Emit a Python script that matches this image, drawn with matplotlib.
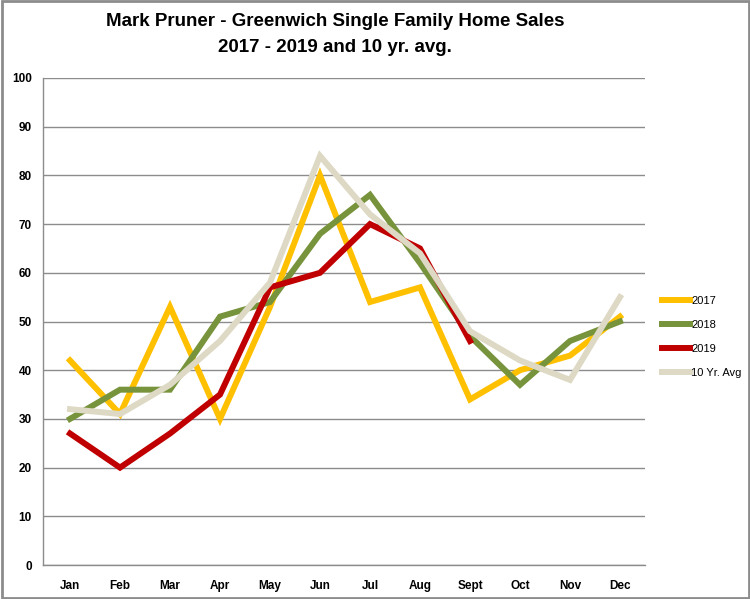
import matplotlib
matplotlib.use("Agg")
import matplotlib.pyplot as plt
from matplotlib.patches import Rectangle

months = ["Jan", "Feb", "Mar", "Apr", "May", "Jun", "Jul", "Aug", "Sept", "Oct", "Nov", "Dec"]
s2017 = [42, 31, 53, 30, 53, 80, 54, 57, 34, 40, 43, 51]
s2018 = [30, 36, 36, 51, 54, 68, 76, 62, 47, 37, 46, 50]
s2019 = [27, 20, 27, 35, 57, 60, 70, 65, 46]
avg10 = [32, 31, 37, 46, 58, 84, 72, 64, 48, 42, 38, 55]
series_names = ["2017", "2018", "2019", "10 Yr. Avg"]
yticks = [0, 10, 20, 30, 40, 50, 60, 70, 80, 90, 100]

colors = ["#FFC000", "#77933C", "#C00000", "#DDD9C4"]

plt.rcParams['font.family'] = ['Liberation Sans', 'DejaVu Sans']

fig = plt.figure(figsize=(7.5, 5.99), dpi=100)
fig.patches.append(Rectangle((0.002, 0.002), 0.996, 0.996, transform=fig.transFigure,
                             fill=False, edgecolor="#8C8C8C", linewidth=2))

ax = fig.add_axes([43/750, 1 - 565/599, (645-43)/750, (565-78)/599])

x = list(range(len(months)))
data = [s2017, s2018, s2019, avg10]
for i, vals in enumerate(data):
    ax.plot(x[:len(vals)], vals, color=colors[i], linewidth=4.3, label=series_names[i],
            solid_joinstyle="miter", zorder=3 + i)

ax.set_xlim(-0.54, 11.5)
ax.set_ylim(0, 100)
ax.set_yticks(yticks)
ax.set_xticks(x)
ax.set_xticklabels(months, fontsize=8.5, fontweight="bold")
ax.set_yticklabels([str(v) for v in yticks], fontsize=8.5, fontweight="bold")
ax.tick_params(axis="both", length=0, pad=8)
ax.tick_params(axis="x", pad=11)
ax.grid(axis="y", color="#8C8C8C", linewidth=1)
ax.set_axisbelow(True)
for s in ["top", "right"]:
    ax.spines[s].set_visible(False)
for s in ["left", "bottom"]:
    ax.spines[s].set_color("#8C8C8C")
    ax.spines[s].set_linewidth(1)

handles, labels = ax.get_legend_handles_labels()
hmap = dict(zip(labels, handles))
leg = fig.legend([hmap[n] for n in series_names], series_names, loc="upper left",
                 bbox_to_anchor=(652/750, 1 - 286/599), frameon=False, fontsize=8,
                 handlelength=2.5, handletextpad=0.15, labelspacing=1.25)

fig.text(335/750, 1 - 22/599, "Mark Pruner - Greenwich Single Family Home Sales",
         ha="center", va="center", fontsize=13.5, fontweight="bold")
fig.text(335/750, 1 - 48/599, "2017 - 2019 and 10 yr. avg.",
         ha="center", va="center", fontsize=13.5, fontweight="bold")

fig.savefig("out.png", dpi=100)
